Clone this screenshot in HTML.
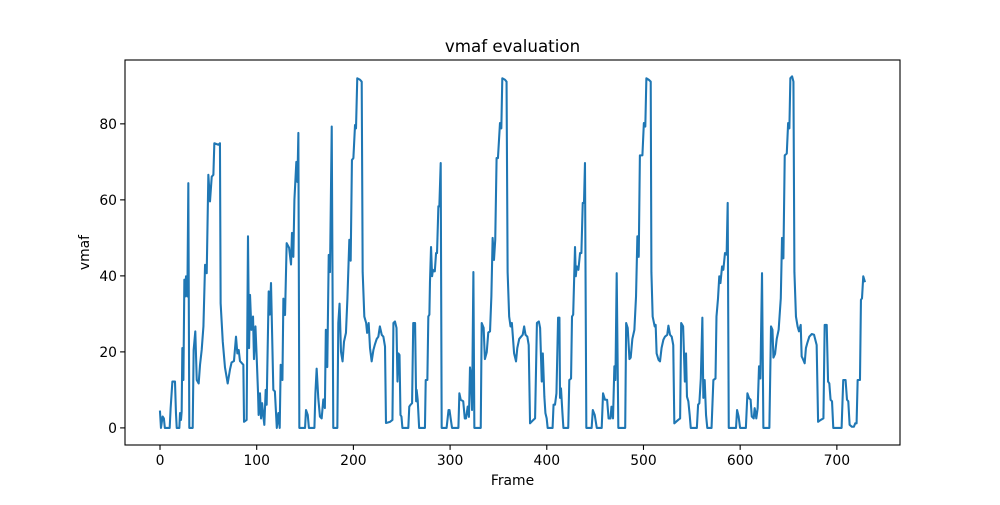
<!DOCTYPE html>
<html><head><meta charset="utf-8"><style>
html,body{margin:0;padding:0;background:#fff;}
svg text{font-family:"DejaVu Sans","Liberation Sans",sans-serif;fill:#000;}
</style></head><body>
<svg id="chart" width="1000" height="500" viewBox="0 0 1000 500" xmlns="http://www.w3.org/2000/svg">
<rect x="0" y="0" width="1000" height="500" fill="#fff"/>
<text x="512.5" y="52" font-size="16.7" text-anchor="middle">vmaf evaluation</text>
<g id="xticks"></g>
<g id="yticks"></g>
<path id="line" fill="none" stroke="#1f77b4" stroke-width="2.08" stroke-linejoin="round" stroke-linecap="square"/>
<rect x="125" y="60" width="775" height="385" fill="none" stroke="#000" stroke-width="1.1"/>
<text x="512.5" y="485" font-size="13.9" text-anchor="middle">Frame</text>
<text x="89" y="252.5" font-size="13.9" text-anchor="middle" transform="rotate(-90 89 252.5)">vmaf</text>
</svg>
<script>
const frames = [0,1,2.7,4,5,10,11,12.8,15.5,16.5,17.3,20,20.7,21.7,22.4,23.1,24.2,25.2,26.2,26.9,28.3,29.3,30.3,33.8,34.8,36.5,38,40,41.4,43.1,44.9,46.6,48.3,50,51.7,53.5,55.2,56.2,60.4,62,62.7,64.9,67.2,70,72.4,74,76.5,78.6,80,81.4,82.7,86.2,86.9,89.6,91,92.1,93.1,94.5,96.2,97.2,98.7,100,101.4,102,103.4,104.5,105.6,106.9,107.9,109.3,110.3,112.4,113.5,114.8,
117.2,118.8,120.8,122.4,123.8,124.8,126.6,127.6,129.3,131,133.5,135.5,136.5,137.9,139,141,142.1,143.1,144.1,150,151,152.8,154,159.7,160.7,162,163.7,165.4,167.2,168.9,170.5,171.5,173,174.5,175.8,177.6,179.2,183.4,184.4,185.7,187.2,188.8,190.3,192.3,193.8,195.8,197.2,198.5,200,201.7,202.7,204,206.9,208.6,209.6,211.3,213.2,214.2,215.8,217.2,218.9,220.7,222.3,224.1,225.8,227.4,229.3,231,232.7,233.7,237.9,240.4,241.4,243,244.6,245.6,246.6,247.7,248.7,249.7,250.7,256.8,257.8,259.2,260.7,261.9,263.8,264.9,265.4,266.5,268,274,274.8,276.5,277.5,278.6,279.2,280.3,281.4,282.2,282.7,284.2,285.5,286.5,287.9,288.9,290.3,291.3,296.4,298.4,299.4,300.6,302,308.6,309.6,311,313.6,315.2,316.5,318.2,319.5,320.6,321.7,322.7,324.1,325.1,331.7,332.7,334.7,336,337.9,339.5,341.3,342.7,344,345.4,346.7,348.1,349.5,351.6,353,354,356.8,358.4,359.5,361.1,362.5,363.9,366.2,368.2,369.5,371.5,373.4,375.1,376.6,378,379.9,381.3,382.7,386.1,387.9,389.8,391.8,393.1,394.8,395.9,397.5,398.6,399.9,400.9,406,407,408.5,410,411.7,413.1,413.7,414.7,416.2,417.2,422.2,423.3,425.1,426.1,427.3,429.2,430,431,432.7,434.4,435.8,437.2,438.5,439.5,440.9,446.4,447.6,449.6,451.7,456.8,458.2,460.2,462.4,463.9,465.9,466.9,468.5,469.9,471,472.3,474,481.1,482.1,483.7,485.5,486.8,488.5,490.6,492.3,493.7,495.1,496.3,498.9,500.4,501.9,503,505.5,507.5,508.2,509.5,511.6,512.6,513.6,515.6,517.1,518.7,520.6,522.2,524.6,525.8,527.5,529.2,530.8,531.9,535.9,537.9,539,541,542.8,544,545,546.4,547.8,548.9,555.2,556.5,557.8,559.3,560.9,561.9,563.3,564.7,566,570.4,572.3,574.5,575.5,577.1,578.4,579.6,581.3,582.6,584.3,586,587.1,588.2,595.7,596.8,598.4,599.9,605.9,607.5,609.2,610.8,612,614,615,616.7,618.1,619.5,620.9,622.6,624,630.2,631.9,633.4,634.4,636.1,637.8,639.8,642,643.3,644.7,646.1,648.2,649.6,650.9,651.9,653.7,655.1,656.1,657.7,659.4,660.8,662.6,663.6,664.6,666.7,668,669.5,671.5,674,676.4,679.1,680.6,683.3,686.1,687.4,689.5,690.9,692.2,693.5,695,696.3,704.9,706.6,709,710.5,711.8,713.2,715.6,717.6,719,720.4,721.5,723.9,724.9,726,727.3,728.8];
const vmafValues = [4.3,0,3,2.5,0,0,5.2,12.2,12.2,3.9,0,0,3.9,2.1,4.3,21,12.6,39,34.6,39.9,34.6,64.4,0,0,20.5,25.4,12.6,11.7,16.6,20.5,26.7,42.9,40.7,66.6,59.6,66.1,66.6,74.9,74.5,74.9,32.8,22.7,15.9,11.7,15.4,17.2,17.6,24,19.6,20.5,17.6,16.6,1.6,2.1,50.4,21,35,25.8,29.3,18.1,26.7,18.5,9.1,3.4,9.1,2.5,6.5,3,0.8,10,6.1,35.9,29.8,38.1,
10,9.6,0,3.9,0,16.6,12.6,34,29.7,48.6,47.4,43,51.3,45,60,70,64.7,77.6,0,0,4.7,3.4,0,0,9.1,15.6,7.8,3,2.5,7.5,5.2,25.8,16,45.5,41,79.3,0,0,27.6,32.7,20,17.5,22.7,25,34,49.5,44,70.5,71,79.7,78.8,92,91.6,91.1,41,29.3,27.6,25,27.6,21,17.5,20.5,22,23.4,24,26.7,24.5,24,21.4,1.3,1.6,2.1,27.6,28,26.3,12.2,19.6,19.2,3.4,3,0,0,5.6,6.1,6.5,27.6,27.6,7,10,7.4,0,0,12.6,12.6,29.3,29.8,38.3,47.6,39.9,41.6,41.2,41.2,46,46,58.3,58.3,69.7,0,0,4.7,4.7,2.5,0,0,9.1,7.4,7,2.5,2.5,5.6,2.9,15.9,13.2,4.7,41,0,0,27.6,26.3,18.1,19.9,25.1,25.4,34.6,50,44.2,49.5,71,71,80.2,78.8,92,91.6,91.1,41,29.3,26.7,27.6,19.6,17.5,21,23.4,24,24.5,26.7,24.5,24,21.8,1.2,2.1,2.5,27.6,28,26.3,12.2,19.6,8.2,3.9,2.5,0,0,6.1,6.1,9.1,29,29,7.9,10.4,3.9,0,0,12.6,13,29.3,29.8,47.6,39.9,42.5,41.6,46,46,59.2,59.2,69.7,0,0,4.7,3.4,0,0,9.1,7.4,7.4,2.5,2.5,5.6,2.5,16.2,12.6,40.7,0,0,27.6,26.3,18.1,18.5,23.4,25.8,34.6,50.4,45,71.7,71.7,80.2,79.3,92,91.6,91.1,41,29.3,26.7,27.1,19.6,17.9,17.5,21,23.2,24,24.5,26.9,24.5,24,21.8,1.2,2.1,2.5,27.6,26.7,12.2,19.6,8.2,7,3.4,0,0,6.1,6.5,13,29,7.9,12.6,3.4,0,0,12.6,13,29.3,34.1,39.9,38.1,42.5,41.6,46,45.6,59.2,0,0,4.7,3,0,0,9.1,7.8,7.4,3,2.5,5.2,2.5,5.2,16.2,13,40.7,0,0,26.7,25.8,18.5,19.5,23.4,25.8,34.1,50,44.6,71.7,72.2,80.2,78.8,92,92.5,91.1,41,29.3,26.7,25.4,27.1,18.8,18.3,17,21,22.4,24,24.7,24.5,21.8,1.6,2.1,2.5,27.1,27.1,12.2,11.7,7.4,7,0,0,12.6,12.6,7.4,7,0.8,0.3,0.3,1.2,1.2,12.6,12.6,33.7,34.1,39.9,38.6];
const xTickValues = [0,100,200,300,400,500,600,700];
const yTickValues = [0,20,40,60,80];

const NS = 'http://www.w3.org/2000/svg';
const X0 = 125, X1 = 900, Y0 = 445, Y1 = 60;
const xMin = -36.2, xMax = 765.3, yMin = -4.5, yMax = 96.8;
function xScale(f){ return X0 + (f - xMin) / (xMax - xMin) * (X1 - X0); }
function yScale(v){ return Y0 - (v - yMin) / (yMax - yMin) * (Y0 - Y1); }

let d = '';
for (let i = 0; i < frames.length && i < vmafValues.length; i++) {
  d += (i ? 'L' : 'M') + xScale(frames[i]).toFixed(2) + ' ' + yScale(vmafValues[i]).toFixed(2);
}
document.getElementById('line').setAttribute('d', d);

const xg = document.getElementById('xticks');
xTickValues.forEach(t => {
  const x = xScale(t);
  const ln = document.createElementNS(NS, 'line');
  
  
  ln.setAttribute('x1', x); ln.setAttribute('x2', x);
  ln.setAttribute('y1', Y0); ln.setAttribute('y2', Y0 + 4.9);
  ln.setAttribute('stroke', '#000'); ln.setAttribute('stroke-width', '1.1');
  xg.appendChild(ln);
  const tx = document.createElementNS(NS, 'text');
  
  
  tx.setAttribute('x', x); tx.setAttribute('y', Y0 + 20);
  tx.setAttribute('font-size', '13.9'); tx.setAttribute('text-anchor', 'middle');
  tx.textContent = String(t);
  xg.appendChild(tx);
});
const yg = document.getElementById('yticks');
yTickValues.forEach(t => {
  const y = yScale(t);
  const ln = document.createElementNS(NS, 'line');
  
  
  ln.setAttribute('x1', X0 - 4.9); ln.setAttribute('x2', X0);
  ln.setAttribute('y1', y); ln.setAttribute('y2', y);
  ln.setAttribute('stroke', '#000'); ln.setAttribute('stroke-width', '1.1');
  yg.appendChild(ln);
  const tx = document.createElementNS(NS, 'text');
  
  
  tx.setAttribute('x', X0 - 8); tx.setAttribute('y', y + 5);
  tx.setAttribute('font-size', '13.9'); tx.setAttribute('text-anchor', 'end');
  tx.textContent = String(t);
  yg.appendChild(tx);
});
</script>
</body></html>
